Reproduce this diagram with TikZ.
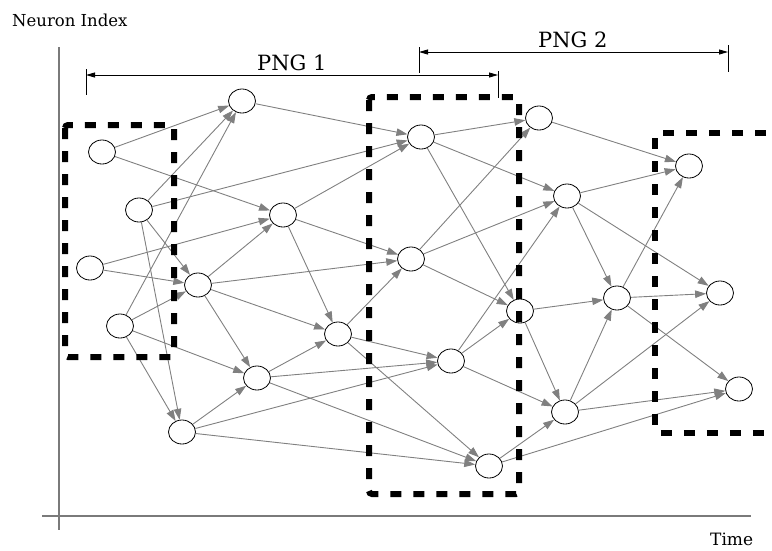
\documentclass[tikz,border=0pt]{standalone}
\usepackage{fontspec}
\setmainfont{DejaVu Serif}
\usetikzlibrary{arrows.meta,shapes.geometric}
\definecolor{synGray}{HTML}{808080}
\definecolor{axisGray}{HTML}{7A7A7A}
\begin{document}
\begin{tikzpicture}[x=1pt,y=-1pt,
  neuron/.style={ellipse,draw=black,line width=0.8pt,fill=white,
    minimum width=27pt,minimum height=24pt,inner sep=0pt},
  syn/.style={draw=synGray,line width=0.9pt,
    -{Triangle[length=11pt,width=7.5pt,fill=synGray]}},
  groupbox/.style={draw=black,line width=6pt,dash pattern=on 11pt off 12pt,
    rounded corners=3pt},
  axis/.style={draw=axisGray,line width=1.3pt},
  span/.style={draw=black,line width=0.8pt,
    {Triangle[length=9pt,width=5pt]}-{Triangle[length=9pt,width=5pt]}},
  tick/.style={draw=black,line width=0.8pt},
  label/.style={inner sep=0pt,anchor=base west}]
\useasboundingbox (0,0) rectangle (772,550);

% axes
\coordinate (yTop) at (59,47);
\coordinate (yBot) at (59,530);
\coordinate (xLeft) at (42,516);
\coordinate (xRight) at (751,516);
\draw[axis] (yTop) -- (yBot);
\draw[axis] (xLeft) -- (xRight);

\node[label,font=\fontsize{16.5}{18}\selectfont] (ylab) at (12,26) {Neuron Index};
\node[label,font=\fontsize{17}{19}\selectfont] (xlab) at (710,545) {Time};

% neurons
\node[neuron] (A) at (102,152) {};
\node[neuron] (B) at (139,210) {};
\node[neuron] (C) at (90,268) {};
\node[neuron] (D) at (120,326) {};
\node[neuron] (E) at (242,101) {};
\node[neuron] (F) at (283,215) {};
\node[neuron] (G) at (198,285) {};
\node[neuron] (H) at (338,334) {};
\node[neuron] (I) at (257,378) {};
\node[neuron] (J) at (182,432) {};
\node[neuron] (K) at (421,137) {};
\node[neuron] (L) at (411,259) {};
\node[neuron] (M) at (451,361) {};
\node[neuron] (N) at (489,466) {};
\node[neuron] (O) at (539,118) {};
\node[neuron] (P) at (567,196) {};
\node[neuron] (Q) at (520,311) {};
\node[neuron] (R) at (617,298) {};
\node[neuron] (S) at (565,412) {};
\node[neuron] (T) at (689,166) {};
\node[neuron] (U) at (720,293) {};
\node[neuron] (V) at (739,389) {};

% synaptic connections
\foreach \a/\b in {A/E,A/F,B/E,B/K,B/G,B/J,C/F,C/G,D/E,D/G,D/I,D/J,
  E/K,F/K,F/L,F/H,G/F,G/L,G/H,G/I,H/L,H/M,H/N,I/H,I/M,I/N,J/I,J/M,J/N,
  K/O,K/P,K/Q,L/O,L/P,L/Q,M/P,M/Q,M/S,N/S,N/V,O/T,P/T,P/R,P/U,
  Q/R,Q/S,R/T,R/U,R/V,S/R,S/U,S/V}
  \draw[syn] (\a) -- (\b);

% polychronous groups
\draw[groupbox] (65,125) rectangle (174,357);
\draw[groupbox] (369,97) rectangle (519,494);
\coordinate (g3a) at (766,133);
\coordinate (g3b) at (655,133);
\coordinate (g3c) at (655,433);
\coordinate (g3d) at (766,433);
\draw[groupbox] (g3a) -- (g3b) -- (g3c) -- (g3d);

% spans of the two groups
\coordinate (s1a) at (86,75);
\coordinate (s1b) at (498,75);
\draw[tick] (86,69) -- (86,95);
\draw[tick] (498,71) -- (498,98);
\draw[span] (s1a) -- (s1b);
\node[label,font=\fontsize{21}{24}\selectfont] (png1) at (257,70) {PNG 1};

\coordinate (s2a) at (419,52);
\coordinate (s2b) at (728,52);
\draw[tick] (419,47) -- (419,73);
\draw[tick] (728,45) -- (728,72);
\draw[span] (s2a) -- (s2b);
\node[label,font=\fontsize{21}{24}\selectfont] (png2) at (538,47) {PNG 2};
\end{tikzpicture}
\end{document}
